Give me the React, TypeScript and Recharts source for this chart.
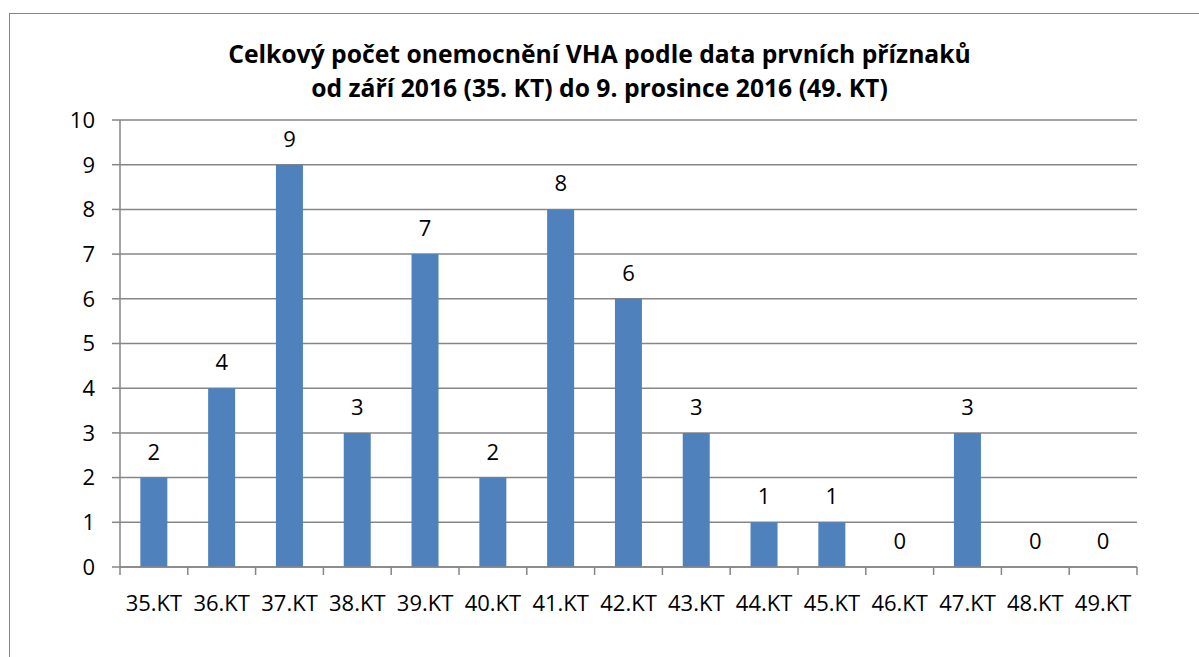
import { ComposedChart, Bar, Line, XAxis, YAxis, CartesianGrid, LabelList } from 'recharts'

const weeks = [
  '35.KT', '36.KT', '37.KT', '38.KT', '39.KT', '40.KT', '41.KT', '42.KT',
  '43.KT', '44.KT', '45.KT', '46.KT', '47.KT', '48.KT', '49.KT',
]
const cases = [2, 4, 9, 3, 7, 2, 8, 6, 3, 1, 1, 0, 3, 0, 0]
const yTicks = [0, 1, 2, 3, 4, 5, 6, 7, 8, 9, 10]
const titleLines = [
  'Celkový počet onemocnění VHA podle data prvních příznaků',
  'od září 2016 (35. KT) do 9. prosince 2016 (49. KT)',
]

const W = 1199
const H = 657
const margin = { top: 120, right: 62, bottom: 50, left: 0 }
const yAxisWidth = 120
const band = (W - margin.left - margin.right - yAxisWidth) / weeks.length
const grey = '#868686'
const font = "'Open Sans', sans-serif"

const data = weeks.map((week, i) => ({ week, cases: cases[i] }))

function WeekTick(props: any) {
  const { x, y, payload, index } = props
  const left = x - band / 2
  return (
    <g>
      <line x1={left} y1={y} x2={left} y2={y + 8} stroke={grey} strokeWidth={1.5} />
      {index === weeks.length - 1 && (
        <line x1={x + band / 2} y1={y} x2={x + band / 2} y2={y + 8} stroke={grey} strokeWidth={1.5} />
      )}
      <text x={x} y={y + 44} textAnchor="middle" fill="#000" fontSize={22} fontFamily={font}>
        {payload.value}
      </text>
    </g>
  )
}

export default function App() {
  return (
    <div
      style={{
        position: 'absolute',
        left: 0,
        top: 0,
        width: W,
        height: H,
        overflow: 'hidden',
        background: '#fff',
        fontFamily: font,
      }}
    >
      <div
        style={{
          position: 'absolute',
          left: 9,
          top: 13,
          width: W + 20,
          height: H + 20,
          border: `1.5px solid ${grey}`,
        }}
      />
      <div
        style={{
          position: 'absolute',
          left: 0,
          top: 37,
          width: W,
          textAlign: 'center',
          fontWeight: 700,
          fontSize: 24.7,
          lineHeight: '34px',
          color: '#000',
        }}
      >
        {titleLines.map((t) => (
          <div key={t}>{t}</div>
        ))}
      </div>
      <div style={{ position: 'absolute', left: 0, top: 0 }}>
        <ComposedChart width={W} height={H} data={data} margin={margin} barCategoryGap="30%">
          <CartesianGrid horizontal vertical={false} stroke={grey} strokeWidth={1.5} />
          <XAxis
            dataKey="week"
            axisLine={{ stroke: grey, strokeWidth: 1.5 }}
            tickLine={false}
            tickSize={0}
            tickMargin={0}
            height={40}
            tick={<WeekTick />}
            interval={0}
          />
          <YAxis
            width={yAxisWidth}
            domain={[0, 10]}
            ticks={yTicks}
            interval={0}
            axisLine={{ stroke: grey, strokeWidth: 1.5 }}
            tickLine={{ stroke: grey, strokeWidth: 1.5 }}
            tickSize={8}
            tickMargin={17}
            tick={{ fill: '#000', fontSize: 22, fontFamily: font }}
          />
          <Bar dataKey="cases" fill="#4F81BD" isAnimationActive={false} />
          {/* invisible series only to carry the value labels, zeros included */}
          <Line
            dataKey="cases"
            stroke="none"
            dot={false}
            activeDot={false}
            legendType="none"
            isAnimationActive={false}
          >
            <LabelList
              dataKey="cases"
              position="top"
              offset={18}
              fill="#000"
              fontSize={22}
              fontFamily={font}
            />
          </Line>
        </ComposedChart>
      </div>
    </div>
  )
}
